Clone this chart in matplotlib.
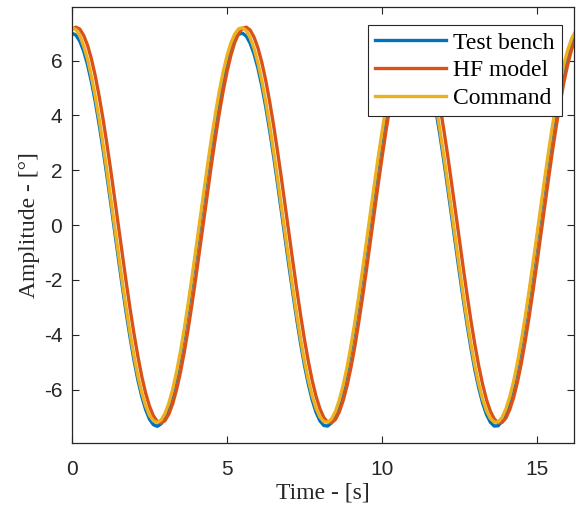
import matplotlib.pyplot as plt

plt.rcParams["axes.unicode_minus"] = False

# time samples [s], every 0.125 s
t = [i * 0.125 for i in range(131)]

test_bench = [7.00, 6.93, 6.71, 6.35, 5.85, 5.23, 4.50, 3.67, 2.77, 1.80,
              0.80, -0.23, -1.25, -2.26, -3.22, -4.11, -4.93, -5.65, -6.25, -6.73,
              -7.08, -7.28, -7.34, -7.25, -7.01, -6.63, -6.12, -5.49, -4.75, -3.91,
              -3.00, -2.03, -1.02, 0.01, 1.03, 2.03, 2.98, 3.87, 4.68, 5.38,
              5.98, 6.44, 6.77, 6.96, 7.00, 6.89, 6.63, 6.24, 5.72, 5.07,
              4.32, 3.47, 2.55, 1.57, 0.56, -0.47, -1.49, -2.48, -3.43, -4.31,
              -5.11, -5.80, -6.38, -6.83, -7.14, -7.31, -7.33, -7.21, -6.94, -6.53,
              -5.99, -5.33, -4.56, -3.71, -2.78, -1.80, -0.78, 0.25, 1.27, 2.26,
              3.20, 4.07, 4.85, 5.53, 6.10, 6.53, 6.83, 6.98, 6.98, 6.84,
              6.56, 6.13, 5.58, 4.91, 4.13, 3.27, 2.33, 1.34, 0.32, -0.70,
              -1.72, -2.71, -3.64, -4.50, -5.28, -5.94, -6.49, -6.91, -7.19, -7.33,
              -7.32, -7.16, -6.85, -6.41, -5.85, -5.16, -4.37, -3.50, -2.56, -1.57,
              -0.54, 0.48, 1.50, 2.48, 3.40, 4.26, 5.02, 5.67, 6.21, 6.61,
              6.87]

hf_model = [7.15, 7.22, 7.15, 6.92, 6.56, 6.06, 5.44, 4.70, 3.87, 2.96,
            1.99, 0.97, -0.06, -1.09, -2.10, -3.07, -3.97, -4.79, -5.52, -6.13,
            -6.61, -6.96, -7.16, -7.22, -7.13, -6.89, -6.51, -5.99, -5.36, -4.61,
            -3.77, -2.85, -1.87, -0.85, 0.18, 1.21, 2.22, 3.18, 4.07, 4.88,
            5.59, 6.19, 6.66, 6.99, 7.18, 7.22, 7.11, 6.85, 6.46, 5.93,
            5.28, 4.52, 3.67, 2.74, 1.76, 0.74, -0.30, -1.33, -2.33, -3.28,
            -4.17, -4.97, -5.67, -6.25, -6.70, -7.02, -7.19, -7.21, -7.09, -6.81,
            -6.40, -5.86, -5.20, -4.43, -3.56, -2.63, -1.64, -0.62, 0.42, 1.45,
            2.44, 3.39, 4.27, 5.06, 5.74, 6.31, 6.75, 7.04, 7.20, 7.20,
            7.06, 6.77, 6.35, 5.79, 5.11, 4.33, 3.46, 2.52, 1.52, 0.50,
            -0.54, -1.56, -2.56, -3.50, -4.36, -5.14, -5.81, -6.37, -6.79, -7.07,
            -7.21, -7.20, -7.04, -6.73, -6.29, -5.72, -5.03, -4.23, -3.35, -2.40,
            -1.41, -0.38, 0.66, 1.68, 2.67, 3.60, 4.46, 5.22, 5.88, 6.42,
            6.83]

command = [7.20, 7.13, 6.91, 6.54, 6.05, 5.42, 4.69, 3.86, 2.95, 1.98,
           0.97, -0.06, -1.09, -2.10, -3.06, -3.96, -4.78, -5.50, -6.11, -6.59,
           -6.94, -7.14, -7.20, -7.11, -6.87, -6.49, -5.98, -5.34, -4.60, -3.76,
           -2.84, -1.87, -0.85, 0.18, 1.21, 2.21, 3.17, 4.06, 4.87, 5.58,
           6.17, 6.64, 6.97, 7.16, 7.20, 7.09, 6.83, 6.44, 5.91, 5.26,
           4.51, 3.66, 2.73, 1.75, 0.73, -0.30, -1.32, -2.32, -3.27, -4.16,
           -4.96, -5.65, -6.23, -6.68, -7.00, -7.17, -7.19, -7.07, -6.80, -6.38,
           -5.84, -5.18, -4.41, -3.55, -2.62, -1.64, -0.61, 0.42, 1.44, 2.44,
           3.38, 4.26, 5.04, 5.73, 6.29, 6.73, 7.03, 7.18, 7.18, 7.04,
           6.76, 6.33, 5.77, 5.10, 4.32, 3.45, 2.51, 1.52, 0.50, -0.54,
           -1.56, -2.55, -3.49, -4.35, -5.13, -5.80, -6.35, -6.77, -7.05, -7.19,
           -7.18, -7.02, -6.71, -6.27, -5.70, -5.01, -4.22, -3.34, -2.40, -1.40,
           -0.38, 0.66, 1.67, 2.66, 3.59, 4.45, 5.21, 5.87, 6.40, 6.81,
           7.07]

labels = ["Test bench", "HF model", "Command"]
colors = ["#0072BD", "#D95319", "#EDB120"]

fig = plt.figure(figsize=(5.81, 5.11), dpi=100)
ax = fig.add_axes([0.124, 0.133, 0.864, 0.853])

for y, lab, c in zip([test_bench, hf_model, command], labels, colors):
    ax.plot(t, y, color=c, lw=2.4, label=lab, solid_joinstyle="round")

ax.set_xlim(0, 16.2)
ax.set_ylim(-7.95, 7.95)
ax.set_xticks([0, 5, 10, 15])
ax.set_yticks([-6, -4, -2, 0, 2, 4, 6])
ax.tick_params(direction="in", top=True, right=True, length=5, width=0.8,
               colors="#262626", labelsize=15, labelcolor="#262626")
for lbl in ax.get_xticklabels() + ax.get_yticklabels():
    lbl.set_family("Liberation Sans")
ax.xaxis.set_tick_params(pad=12)
ax.yaxis.set_tick_params(pad=7)
for s in ax.spines.values():
    s.set_color("#262626")
    s.set_linewidth(0.9)

serif = "Liberation Serif"
ax.set_xlabel("Time - [s]", family=serif, fontsize=17, color="#262626", labelpad=3)
ax.set_ylabel("Amplitude - [°]", family=serif, fontsize=17, color="#262626", labelpad=3)

leg = ax.legend(loc="upper right", bbox_to_anchor=(0.976, 0.959), fancybox=False,
                framealpha=1, edgecolor="#262626", handlelength=3.0,
                borderaxespad=0, labelspacing=0.26, borderpad=0.3,
                handletextpad=0.3, prop={"family": serif, "size": 17})
leg.get_frame().set_linewidth(0.8)

fig.savefig("out.png", dpi=100)
